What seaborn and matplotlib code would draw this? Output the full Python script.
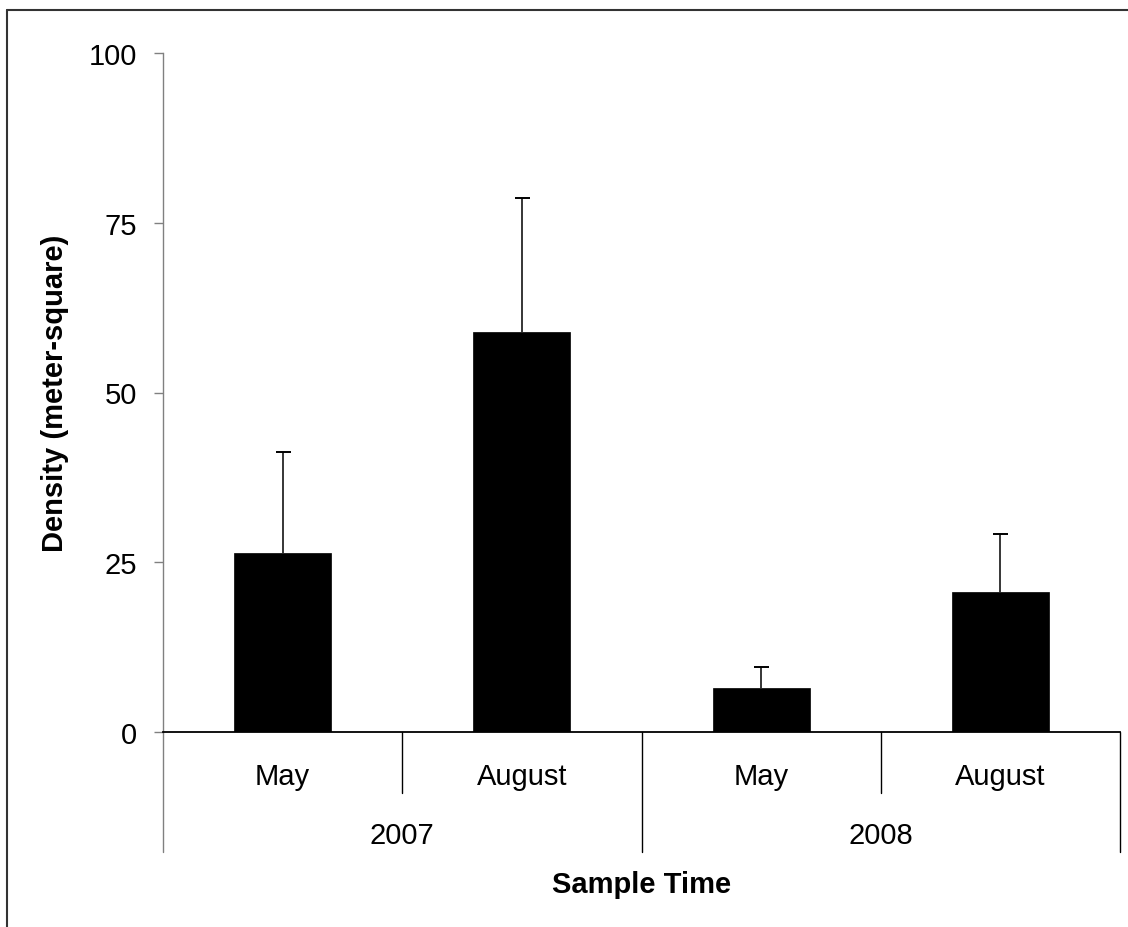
import matplotlib
matplotlib.use("Agg")
import matplotlib.pyplot as plt
import seaborn as sns
import pandas as pd
import numpy as np
from matplotlib.transforms import blended_transform_factory
from matplotlib.lines import Line2D

# Mean density per sampling event, with standard error (upper bar only)
months = ["May", "August", "May", "August"]
years = ["2007", "2008"]
year_of_sample = ["2007", "2007", "2008", "2008"]
density = [26.4, 58.9, 6.5, 20.6]
std_err = [14.9, 19.7, 3.0, 8.6]
y_ticks = [0, 25, 50, 75, 100]

periods = [f"{m} {y}" for m, y in zip(months, year_of_sample)]
df = pd.DataFrame({"period": periods, "density": density})

sns.set_theme(style="white")
plt.rcParams["font.family"] = ["Liberation Sans", "DejaVu Sans"]

W, H = 1128, 928
fig = plt.figure(figsize=(W / 100, H / 100), dpi=100)
fig.patch.set_facecolor("white")

# plot area in pixels
x0, x1, y0, y1 = 163, 1120, 733, 54
ax = fig.add_axes([x0 / W, (H - y0) / H, (x1 - x0) / W, (y0 - y1) / H])

sns.barplot(data=df, x="period", y="density", order=periods, color="black",
            saturation=1, width=0.405, errorbar=None, edgecolor="black",
            linewidth=0.5, ax=ax)

# upper standard-error whiskers (lower cap hidden)
for patch, err in zip(ax.patches, std_err):
    cx = patch.get_x() + patch.get_width() / 2
    top = patch.get_height()
    cont = ax.errorbar(cx, top, yerr=[[0], [err]], fmt="none", ecolor="black",
                       elinewidth=1.1, capsize=5.4, capthick=1.4, zorder=0.5)
    for cap in cont.lines[1]:
        if np.allclose(cap.get_ydata(), top):
            cap.set_visible(False)

ax.set_ylim(0, 100)
ax.set_xlim(-0.5, len(periods) - 0.5)
ax.set_yticks(y_ticks)
ax.set_yticklabels([str(t) for t in y_ticks])
ax.set_xticks([])

for side in ("top", "right"):
    ax.spines[side].set_visible(False)
ax.spines["left"].set_color("#808080")
ax.spines["left"].set_linewidth(1.0)
ax.spines["bottom"].set_color("black")
ax.spines["bottom"].set_linewidth(1.3)

ax.tick_params(axis="y", which="major", left=True, length=6.5, width=1.0,
               color="#808080", pad=12, labelsize=21, labelcolor="black")

# two-level category axis: month labels, year labels and divider lines
trans = blended_transform_factory(ax.transData, fig.transFigure)

def fy(py):
    return 1 - py / H

for i, m in enumerate(months):
    ax.text(i, fy(785.5), m, transform=trans, ha="center", va="baseline",
            fontsize=21, color="black")

for j, yr in enumerate(years):
    ax.text(2 * j + 0.5, fy(844), yr, transform=trans, ha="center",
            va="baseline", fontsize=21, color="black")

for xb, bottom, col in [(-0.5, 853, "#808080"), (0.5, 794, "black"),
                        (1.5, 853, "black"), (2.5, 794, "black"),
                        (3.5, 853, "black")]:
    ax.add_line(Line2D([xb, xb], [fy(y0), fy(bottom)], transform=trans,
                       color=col, linewidth=1.0, clip_on=False))

# axis titles
ax.set_xlabel("Sample Time", fontsize=21, fontweight="bold", color="black")
ax.xaxis.label.set_verticalalignment("baseline")
ax.xaxis.set_label_coords(0.5, (y0 - 893) / (y0 - y1))

ax.set_ylabel("Density (meter-square)", fontsize=21, fontweight="bold",
              color="black")
ax.yaxis.label.set_verticalalignment("baseline")
ax.yaxis.set_label_coords((63 - x0) / (x1 - x0), 0.5)

# chart frame (top and left edges)
frame_kw = dict(color="#333333", linewidth=1.5, transform=fig.transFigure)
fig.add_artist(Line2D([7 / W, 1.0], [fy(11), fy(11)], **frame_kw))
fig.add_artist(Line2D([7 / W, 7 / W], [fy(11), 0.0], **frame_kw))

fig.savefig("out.png", dpi=100, facecolor="white")
